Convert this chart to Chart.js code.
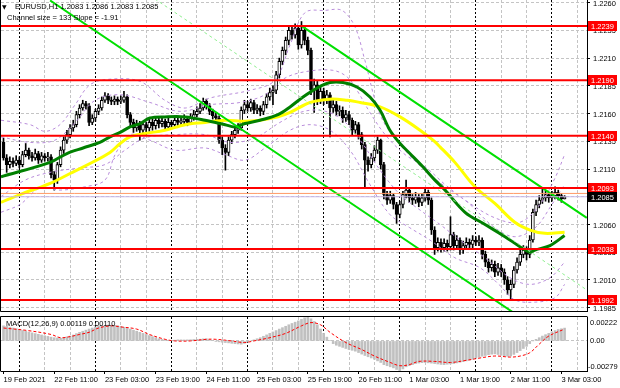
<!DOCTYPE html>
<html>
<head>
<meta charset="utf-8">
<script src="https://cdn.jsdelivr.net/npm/chart.js@4.4.1/dist/chart.umd.min.js"></script>
<style>
html, body { margin: 0; padding: 0; background: #fff; }
#wrap { position: relative; width: 620px; height: 388px; overflow: hidden; }
#main { position: absolute; left: 0; top: 0; }
#macd { position: absolute; left: 0; top: 313px; }
</style>
</head>
<body>
<div id="wrap">
<canvas id="main" width="620" height="313"></canvas>
<canvas id="macd" width="620" height="75"></canvas>
</div>
<script>
// EURUSD H1, 19 Feb 2021 19:00 .. 3 Mar 2021 04:00, one entry per bar
const opens = [
  1.2134, 1.2120, 1.2114, 1.2117, 1.2115, 1.2118, 1.2114, 1.2123, 1.2127, 1.2122,
  1.2120, 1.2124, 1.2118, 1.2122, 1.2120, 1.2121, 1.2105, 1.2100, 1.2114, 1.2127,
  1.2136, 1.2141, 1.2147, 1.2150, 1.2159, 1.2165, 1.2169, 1.2167, 1.2152, 1.2156,
  1.2162, 1.2165, 1.2172, 1.2176, 1.2172, 1.2171, 1.2173, 1.2171, 1.2172, 1.2175,
  1.2159, 1.2152, 1.2147, 1.2151, 1.2145, 1.2150, 1.2147, 1.2152, 1.2149, 1.2154,
  1.2151, 1.2153, 1.2148, 1.2152, 1.2150, 1.2154, 1.2152, 1.2153, 1.2155, 1.2152,
  1.2156, 1.2159, 1.2162, 1.2165, 1.2171, 1.2167, 1.2162, 1.2158, 1.2156, 1.2136,
  1.2129, 1.2125, 1.2136, 1.2141, 1.2145, 1.2147, 1.2163, 1.2168, 1.2165, 1.2170,
  1.2163, 1.2165, 1.2162, 1.2168, 1.2175, 1.2179, 1.2181, 1.2195, 1.2207, 1.2217,
  1.2226, 1.2235, 1.2231, 1.2237, 1.2222, 1.2235, 1.2226, 1.2217, 1.2181, 1.2186,
  1.2172, 1.2180, 1.2172, 1.2177, 1.2165, 1.2168, 1.2162, 1.2163, 1.2156, 1.2159,
  1.2154, 1.2145, 1.2150, 1.2141, 1.2132, 1.2118, 1.2114, 1.2120, 1.2127, 1.2136,
  1.2114, 1.2087, 1.2082, 1.2086, 1.2078, 1.2069, 1.2078, 1.2087, 1.2091, 1.2084,
  1.2082, 1.2085, 1.2080, 1.2084, 1.2089, 1.2082, 1.2055, 1.2039, 1.2044, 1.2039,
  1.2043, 1.2040, 1.2051, 1.2041, 1.2046, 1.2037, 1.2041, 1.2044, 1.2042, 1.2046,
  1.2044, 1.2046, 1.2033, 1.2026, 1.2021, 1.2024, 1.2017, 1.2021, 1.2017, 1.2010,
  1.2001, 1.2006, 1.2019, 1.2026, 1.2033, 1.2037, 1.2033, 1.2046, 1.2071, 1.2078,
  1.2082, 1.2084, 1.2087, 1.2084, 1.2086, 1.2089, 1.2086, 1.2083
];
const highs = [
  1.2138, 1.2123, 1.2121, 1.2120, 1.2122, 1.2121, 1.2126, 1.2133, 1.2129, 1.2125,
  1.2128, 1.2126, 1.2125, 1.2124, 1.2125, 1.2123, 1.2108, 1.2116, 1.2130, 1.2139,
  1.2145, 1.2150, 1.2154, 1.2162, 1.2168, 1.2172, 1.2171, 1.2169, 1.2159, 1.2164,
  1.2168, 1.2175, 1.2179, 1.2178, 1.2175, 1.2176, 1.2175, 1.2176, 1.2180, 1.2177,
  1.2161, 1.2155, 1.2154, 1.2153, 1.2153, 1.2152, 1.2156, 1.2155, 1.2157, 1.2156,
  1.2157, 1.2155, 1.2156, 1.2154, 1.2158, 1.2156, 1.2157, 1.2159, 1.2157, 1.2160,
  1.2163, 1.2166, 1.2169, 1.2174, 1.2173, 1.2169, 1.2164, 1.2161, 1.2158, 1.2139,
  1.2132, 1.2139, 1.2144, 1.2148, 1.2151, 1.2166, 1.2172, 1.2171, 1.2173, 1.2172,
  1.2168, 1.2167, 1.2171, 1.2178, 1.2183, 1.2185, 1.2198, 1.2210, 1.2220, 1.2229,
  1.2238, 1.2239, 1.2241, 1.2239, 1.2243, 1.2238, 1.2229, 1.2219, 1.2191, 1.2189,
  1.2184, 1.2183, 1.2181, 1.2179, 1.2172, 1.2171, 1.2167, 1.2166, 1.2163, 1.2162,
  1.2156, 1.2153, 1.2152, 1.2143, 1.2134, 1.2121, 1.2124, 1.2131, 1.2139, 1.2137,
  1.2116, 1.2090, 1.2090, 1.2088, 1.2080, 1.2081, 1.2090, 1.2100, 1.2093, 1.2087,
  1.2089, 1.2087, 1.2088, 1.2093, 1.2091, 1.2084, 1.2058, 1.2048, 1.2047, 1.2047,
  1.2046, 1.2067, 1.2053, 1.2050, 1.2048, 1.2045, 1.2048, 1.2047, 1.2050, 1.2049,
  1.2050, 1.2048, 1.2036, 1.2029, 1.2028, 1.2027, 1.2025, 1.2024, 1.2020, 1.2013,
  1.2010, 1.2022, 1.2030, 1.2037, 1.2041, 1.2040, 1.2050, 1.2074, 1.2082, 1.2086,
  1.2093, 1.2090, 1.2089, 1.2090, 1.2094, 1.2091, 1.2088, 1.2086
];
const lows = [
  1.2118, 1.2107, 1.2111, 1.2112, 1.2113, 1.2111, 1.2112, 1.2121, 1.2119, 1.2117,
  1.2118, 1.2115, 1.2116, 1.2117, 1.2117, 1.2102, 1.2091, 1.2097, 1.2112, 1.2124,
  1.2133, 1.2138, 1.2144, 1.2148, 1.2156, 1.2163, 1.2164, 1.2149, 1.2150, 1.2153,
  1.2159, 1.2163, 1.2170, 1.2169, 1.2168, 1.2168, 1.2168, 1.2169, 1.2170, 1.2156,
  1.2149, 1.2143, 1.2144, 1.2136, 1.2142, 1.2141, 1.2144, 1.2145, 1.2146, 1.2147,
  1.2148, 1.2145, 1.2146, 1.2147, 1.2148, 1.2149, 1.2150, 1.2151, 1.2149, 1.2150,
  1.2154, 1.2157, 1.2160, 1.2163, 1.2164, 1.2159, 1.2155, 1.2153, 1.2133, 1.2123,
  1.2109, 1.2122, 1.2133, 1.2138, 1.2142, 1.2145, 1.2160, 1.2162, 1.2162, 1.2160,
  1.2160, 1.2158, 1.2159, 1.2165, 1.2172, 1.2168, 1.2178, 1.2192, 1.2204, 1.2213,
  1.2222, 1.2227, 1.2228, 1.2218, 1.2219, 1.2222, 1.2213, 1.2177, 1.2161, 1.2168,
  1.2169, 1.2168, 1.2169, 1.2139, 1.2161, 1.2158, 1.2158, 1.2152, 1.2153, 1.2150,
  1.2141, 1.2142, 1.2137, 1.2128, 1.2094, 1.2108, 1.2111, 1.2117, 1.2124, 1.2110,
  1.2083, 1.2078, 1.2079, 1.2074, 1.2061, 1.2066, 1.2075, 1.2084, 1.2080, 1.2078,
  1.2079, 1.2076, 1.2077, 1.2081, 1.2078, 1.2051, 1.2033, 1.2036, 1.2035, 1.2036,
  1.2036, 1.2037, 1.2037, 1.2038, 1.2033, 1.2034, 1.2038, 1.2039, 1.2039, 1.2041,
  1.2041, 1.2029, 1.2022, 1.2017, 1.2018, 1.2013, 1.2014, 1.2013, 1.2006, 1.1997,
  1.1992, 1.2003, 1.2016, 1.2023, 1.2030, 1.2028, 1.2030, 1.2044, 1.2068, 1.2075,
  1.2079, 1.2081, 1.2080, 1.2081, 1.2083, 1.2082, 1.2080, 1.2083
];
const closes = [
  1.2120, 1.2114, 1.2117, 1.2115, 1.2118, 1.2114, 1.2123, 1.2127, 1.2122, 1.2120,
  1.2124, 1.2118, 1.2122, 1.2120, 1.2121, 1.2105, 1.2100, 1.2114, 1.2127, 1.2136,
  1.2141, 1.2147, 1.2150, 1.2159, 1.2165, 1.2169, 1.2167, 1.2152, 1.2156, 1.2162,
  1.2165, 1.2172, 1.2176, 1.2172, 1.2171, 1.2173, 1.2171, 1.2172, 1.2175, 1.2159,
  1.2152, 1.2147, 1.2151, 1.2145, 1.2150, 1.2147, 1.2152, 1.2149, 1.2154, 1.2151,
  1.2153, 1.2148, 1.2152, 1.2150, 1.2154, 1.2152, 1.2153, 1.2155, 1.2152, 1.2156,
  1.2159, 1.2162, 1.2165, 1.2171, 1.2167, 1.2162, 1.2158, 1.2156, 1.2136, 1.2129,
  1.2125, 1.2136, 1.2141, 1.2145, 1.2147, 1.2163, 1.2168, 1.2165, 1.2170, 1.2163,
  1.2165, 1.2162, 1.2168, 1.2175, 1.2179, 1.2181, 1.2195, 1.2207, 1.2217, 1.2226,
  1.2235, 1.2231, 1.2237, 1.2222, 1.2235, 1.2226, 1.2217, 1.2181, 1.2186, 1.2172,
  1.2180, 1.2172, 1.2177, 1.2165, 1.2168, 1.2162, 1.2163, 1.2156, 1.2159, 1.2154,
  1.2145, 1.2150, 1.2141, 1.2132, 1.2118, 1.2114, 1.2120, 1.2127, 1.2136, 1.2114,
  1.2087, 1.2082, 1.2086, 1.2078, 1.2069, 1.2078, 1.2087, 1.2091, 1.2084, 1.2082,
  1.2085, 1.2080, 1.2084, 1.2089, 1.2082, 1.2055, 1.2039, 1.2044, 1.2039, 1.2043,
  1.2040, 1.2051, 1.2041, 1.2046, 1.2037, 1.2041, 1.2044, 1.2042, 1.2046, 1.2044,
  1.2046, 1.2033, 1.2026, 1.2021, 1.2024, 1.2017, 1.2021, 1.2017, 1.2010, 1.2001,
  1.2006, 1.2019, 1.2026, 1.2033, 1.2037, 1.2033, 1.2046, 1.2071, 1.2078, 1.2082,
  1.2084, 1.2087, 1.2084, 1.2086, 1.2089, 1.2086, 1.2083, 1.2085
];

// moving averages: [bar, price]
const maGreen = [
  [-0.8, 1.2103], [14.7, 1.2116], [20, 1.2124], [25.1, 1.2129], [30.4, 1.2134], [33.6, 1.2139],
  [36.8, 1.2143], [39.9, 1.2148], [43.1, 1.2151], [46.2, 1.2156], [50.9, 1.2157], [57.3, 1.2157],
  [63.6, 1.2154], [69.9, 1.2150], [73, 1.2148], [76.2, 1.2151], [80.9, 1.2154], [86.6, 1.2159],
  [90.4, 1.2166], [94.5, 1.2175], [98.9, 1.2183], [103, 1.2188], [107.1, 1.2188], [111.5, 1.2184],
  [115.6, 1.2175], [118.8, 1.2163], [121.9, 1.2145], [125.1, 1.2133], [128.2, 1.2124], [132.3, 1.2112],
  [136.1, 1.2100], [139.3, 1.2091], [145.6, 1.2071], [151.9, 1.2060], [158.2, 1.2049], [162.9, 1.2040],
  [166.1, 1.2035], [167.7, 1.2037], [172.4, 1.2041], [177, 1.2050]
];
const maYellow = [
  [-0.8, 1.2080], [5.2, 1.2087], [14.7, 1.2097], [21, 1.2106], [27.3, 1.2115], [33.6, 1.2125],
  [36.8, 1.2133], [39.9, 1.2139], [44.6, 1.2142], [50.9, 1.2145], [57.3, 1.2150], [63.6, 1.2152],
  [69.9, 1.2154], [76.2, 1.2153], [80.9, 1.2154], [86.6, 1.2157], [90.4, 1.2161], [96.7, 1.2170],
  [103, 1.2173], [108.4, 1.2172], [112.5, 1.2170], [118.8, 1.2166], [125.1, 1.2157], [131.4, 1.2145],
  [135.5, 1.2136], [137.7, 1.2130], [142.4, 1.2116], [148.7, 1.2094], [155, 1.2079], [161.3, 1.2062],
  [166.1, 1.2055], [170.8, 1.2052], [177, 1.2053]
];

// dashed bands round the price: [bar, price]
const bandOuterUp = [
  [-0.8, 1.2154], [8.4, 1.2150], [13.1, 1.2144], [17.8, 1.2150], [22.6, 1.2168], [27.3, 1.2186],
  [33.6, 1.2191], [43.1, 1.2189], [50.9, 1.2172], [57.3, 1.2165], [65.1, 1.2174], [77.8, 1.2181],
  [85.6, 1.2190], [90.4, 1.2222], [95.1, 1.2251], [101.4, 1.2253], [106.8, 1.2253], [110.9, 1.2238],
  [114, 1.2208], [118.8, 1.2159], [125.1, 1.2132], [134.5, 1.2105], [145.6, 1.2082], [155, 1.2066],
  [162.9, 1.2062], [169.2, 1.2078], [174, 1.2102], [177, 1.2123]
];
const bandOuterDown = [
  [-0.8, 1.2071], [5.2, 1.2078], [11.5, 1.2093], [17.8, 1.2091], [25.7, 1.2094], [32, 1.2100],
  [35.2, 1.2123], [39.9, 1.2141], [46.2, 1.2136], [54.1, 1.2127], [63.6, 1.2129], [69.9, 1.2123],
  [76.2, 1.2118], [82.5, 1.2129], [90.4, 1.2145], [96.7, 1.2150], [103, 1.2145], [109.3, 1.2127],
  [115.6, 1.2096], [121.9, 1.2069], [128.2, 1.2057], [134.5, 1.2046], [142.4, 1.2030], [150.3, 1.2021],
  [156.6, 1.2005], [161.3, 1.1992], [167.7, 1.1990], [174, 1.1994], [177, 1.2006]
];
const bandInnerUp = [
  [-0.8, 1.2139], [8.4, 1.2134], [16.2, 1.2136], [22.6, 1.2152], [28.9, 1.2172], [36.8, 1.2177],
  [46.2, 1.2170], [55.7, 1.2162], [65.1, 1.2168], [74.6, 1.2170], [82.5, 1.2177], [88.8, 1.2192],
  [95.7, 1.2198], [103.9, 1.2199], [108.4, 1.2193], [111.5, 1.2181], [115.6, 1.2161], [120.4, 1.2141],
  [126.7, 1.2123], [133, 1.2112], [139.3, 1.2096], [147.2, 1.2078], [155, 1.2057], [161.3, 1.2049],
  [167.7, 1.2057], [173, 1.2078], [177, 1.2096]
];
const bandInnerDown = [
  [-0.8, 1.2085], [6.8, 1.2100], [14.7, 1.2107], [24.1, 1.2111], [32, 1.2114], [38.3, 1.2127],
  [44.6, 1.2138], [54.1, 1.2141], [63.6, 1.2141], [71.5, 1.2134], [79.3, 1.2138], [87.2, 1.2152],
  [93.5, 1.2161], [99.8, 1.2163], [106.2, 1.2156], [112.5, 1.2136], [118.8, 1.2109], [125.1, 1.2087],
  [131.4, 1.2073], [137.7, 1.2060], [144, 1.2046], [151.9, 1.2030], [159.8, 1.2012], [166.1, 1.2006],
  [172.4, 1.2012], [177, 1.2026]
];

// equidistant channel: [bar, price] end points
const channelLower = [[14.7, 1.2262], [184, 1.1936]];
const channelMiddle = [[14.7, 1.2327], [184, 1.2001]];
const channelUpper = [[94, 1.2239], [184, 1.2066]];

// horizontal levels
const levels = [1.2239, 1.2190, 1.2140, 1.2093, 1.2038, 1.1992];
const askPrice = 1.2088;

// MACD(12,26,9): main line as histogram, one per bar, signal line as read points
const macdMain = [
  0.00140, 0.00135, 0.00128, 0.00120, 0.00113, 0.00105, 0.00097, 0.00090, 0.00082, 0.00075,
  0.00068, 0.00061, 0.00055, 0.00048, 0.00042, 0.00035, 0.00030, 0.00027, 0.00025, 0.00030,
  0.00038, 0.00045, 0.00055, 0.00068, 0.00080, 0.00090, 0.00100, 0.00110, 0.00120, 0.00130,
  0.00140, 0.00143, 0.00145, 0.00147, 0.00146, 0.00144, 0.00141, 0.00135, 0.00127, 0.00118,
  0.00110, 0.00100, 0.00090, 0.00080, 0.00070, 0.00060, 0.00050, 0.00040, 0.00030, 0.00020,
  0.00014, 0.00008, 0.00002, 0.00004, 0.00007, 0.00010, 0.00010, 0.00009, 0.00010, 0.00011,
  0.00013, 0.00015, 0.00016, 0.00019, 0.00020, 0.00012, 0.00005, -0.00002, -0.00008, -0.00012,
  -0.00015, -0.00018, -0.00022, -0.00025, -0.00028, -0.00030, -0.00022, -0.00010, 0.00000, 0.00010,
  0.00020, 0.00030, 0.00043, 0.00056, 0.00070, 0.00083, 0.00096, 0.00110, 0.00123, 0.00136,
  0.00150, 0.00162, 0.00174, 0.00186, 0.00200, 0.00215, 0.00222, 0.00205, 0.00180, 0.00150,
  0.00110, 0.00070, 0.00035, 0.00005, -0.00025, -0.00040, -0.00050, -0.00060, -0.00070, -0.00080,
  -0.00087, -0.00095, -0.00108, -0.00122, -0.00135, -0.00147, -0.00158, -0.00170, -0.00185, -0.00200,
  -0.00220, -0.00230, -0.00240, -0.00250, -0.00265, -0.00279, -0.00260, -0.00240, -0.00230, -0.00220,
  -0.00210, -0.00205, -0.00202, -0.00200, -0.00203, -0.00206, -0.00210, -0.00214, -0.00218, -0.00220,
  -0.00216, -0.00213, -0.00210, -0.00204, -0.00198, -0.00192, -0.00185, -0.00178, -0.00170, -0.00160,
  -0.00150, -0.00142, -0.00135, -0.00128, -0.00123, -0.00120, -0.00126, -0.00133, -0.00140, -0.00142,
  -0.00140, -0.00125, -0.00108, -0.00090, -0.00070, -0.00050, -0.00025, 0.00000, 0.00015, 0.00030,
  0.00045, 0.00058, 0.00070, 0.00085, 0.00096, 0.00106, 0.00113, 0.00119
];
const macdSignal = [
  [0, 0.00120], [8, 0.00095], [15, 0.00060], [18, 0.00030], [21, 0.00040], [24, 0.00060],
  [27, 0.00080], [30, 0.00120], [34, 0.00140], [37, 0.00130], [42, 0.00110], [46, 0.00060],
  [51, 0.00015], [54, 0.00000], [59, 0.00000], [64, 0.00015], [67, 0.00015], [72, 0.00000],
  [76, -0.00015], [79, 0.00000], [84, 0.00030], [89, 0.00070], [94, 0.00140], [97, 0.00170],
  [100, 0.00150], [103, 0.00080], [108, -0.00015], [113, -0.00080], [117, -0.00140], [122, -0.00200],
  [125, -0.00230], [128, -0.00220], [131, -0.00190], [136, -0.00190], [141, -0.00200], [146, -0.00180],
  [150, -0.00160], [155, -0.00140], [160, -0.00150], [163, -0.00140], [166, -0.00110], [169, -0.00030],
  [172, 0.00045], [177, 0.00110]
];

const timeLabels = [
  "19 Feb 2021", "22 Feb 11:00", "23 Feb 03:00", "23 Feb 19:00", "24 Feb 11:00", "25 Feb 03:00",
  "25 Feb 19:00", "26 Feb 11:00", "1 Mar 03:00", "1 Mar 19:00", "2 Mar 11:00", "3 Mar 03:00"
];
const labelStep = 16;      // bars between time labels
const firstMidnight = 5;   // bar of 22 Feb 00:00
const gridStep = 8;        // bars between vertical grid lines

const priceMin = 1.19820, priceMax = 1.22624;
const priceTicks = [1.1985, 1.2010, 1.2035, 1.2060, 1.2085, 1.2110, 1.2135, 1.2160, 1.2185, 1.2210, 1.2235, 1.2260];
const macdMin = -0.00279, macdMax = 0.00222;

const xMin = -0.79, xMax = 184.07;
const FONT = '"Liberation Sans", Arial, sans-serif';
const GRID = '#c4c4c4';

const gridBars = [];
for (let b = firstMidnight; b <= xMax; b += gridStep) gridBars.push(b);
const isMidnight = v => (v - firstMidnight) % 24 === 0;

const pts = arr => arr.map(([x, y]) => ({x, y}));
const flat = (v) => [{x: xMin - 1, y: v}, {x: xMax + 1, y: v}];

const vGrid = {
  color: c => (c.tick && isMidnight(c.tick.value)) ? '#000' : GRID,
  drawTicks: false,
  offset: false
};
const vDash = c => (c.tick && isMidnight(c.tick.value)) ? [2, 2] : [3, 2];

// ---------- main price panel ----------
const mainOverlay = {
  id: 'mainOverlay',
  afterDraw(chart) {
    const {ctx, chartArea: a, scales: {y}} = chart;
    const last = closes.length - 1;
    ctx.save();
    ctx.font = '7.5px ' + FONT;
    ctx.textBaseline = 'middle';
    // level tags on the price axis
    levels.forEach(v => {
      const py = Math.round(y.getPixelForValue(v));
      ctx.fillStyle = '#ff0000';
      ctx.fillRect(a.right + 1, py - 5, 29, 10);
      ctx.fillStyle = '#fff';
      ctx.fillText(v.toFixed(4), a.right + 4, py + 0.5);
    });
    const by = Math.round(y.getPixelForValue(closes[last]));
    ctx.fillStyle = '#000';
    ctx.fillRect(a.right + 1, by - 5, 29, 10);
    ctx.fillStyle = '#fff';
    ctx.fillText(closes[last].toFixed(4), a.right + 4, by + 0.5);
    // frame
    ctx.strokeStyle = '#000';
    ctx.lineWidth = 1;
    ctx.beginPath();
    ctx.moveTo(a.left - 0.5, 0); ctx.lineTo(a.left - 0.5, a.bottom + 0.5);
    ctx.lineTo(a.right + 0.5, a.bottom + 0.5);
    ctx.stroke();
    // header
    ctx.fillStyle = '#000';
    ctx.font = '6px "DejaVu Sans", sans-serif';
    ctx.fillText('\u25BC', 2, 7);
    ctx.font = '7.5px ' + FONT;
    ctx.fillText('EURUSD,H1 ' + [opens[last], highs[last], lows[last], closes[last]].map(v => v.toFixed(4)).join(' '), 15, 7);
    ctx.fillText('Channel size = 133 Slope = -1.91', 7, 18);
    ctx.restore();
  }
};

const lineDs = (data, color, width, order, dash) => ({
  type: 'line', data, borderColor: color, borderWidth: width, borderDash: dash || [],
  pointRadius: 0, fill: false, tension: 0.35, order
});

const BAND = '#b98ddb';
const mainDatasets = [];
levels.forEach(v => mainDatasets.push(lineDs(flat(v), '#ff0000', 2, 1)));
mainDatasets.push(lineDs(flat(askPrice), '#ff9a66', 1, 1));
mainDatasets.push(lineDs(flat(closes[closes.length - 1]), '#c8b8e8', 1, 1));
mainDatasets.push(lineDs(pts(channelLower), '#00e000', 2, 2));
mainDatasets.push(lineDs(pts(channelUpper), '#00e000', 2, 2));
mainDatasets.push(lineDs(pts(channelMiddle), '#90ee90', 1, 2, [3, 3]));
mainDatasets.push(lineDs(pts(maGreen), '#008000', 3, 3));
mainDatasets.push(lineDs(pts(maYellow), '#ffff00', 3, 3));
[bandOuterUp, bandOuterDown, bandInnerUp, bandInnerDown].forEach(b =>
  mainDatasets.push(lineDs(pts(b), BAND, 1, 4, [3, 3])));
mainDatasets.push({
  type: 'bar', order: 5, grouped: false, barThickness: 3,
  data: opens.map((o, i) => ({x: i, y: [o, closes[i]]})),
  backgroundColor: opens.map((o, i) => closes[i] >= o ? '#ffffff' : '#000000'),
  borderColor: '#000', borderWidth: 1, borderSkipped: false
});
mainDatasets.push({
  type: 'bar', order: 6, grouped: false, barThickness: 1,
  data: lows.map((l, i) => ({x: i, y: [l, highs[i]]})),
  backgroundColor: '#000', borderWidth: 0
});

new Chart(document.getElementById('main'), {
  type: 'bar',
  data: {datasets: mainDatasets},
  options: {
    responsive: false, animation: false, devicePixelRatio: 1, events: [],
    layout: {padding: {left: 1, top: 0, right: 0, bottom: 2}},
    plugins: {legend: {display: false}, tooltip: {enabled: false}},
    scales: {
      x: {
        type: 'linear', min: xMin, max: xMax, offset: false,
        afterBuildTicks: s => { s.ticks = gridBars.map(v => ({value: v})); },
        ticks: {display: false},
        grid: vGrid,
        border: {display: false, dash: vDash},
        afterFit: s => { s.height = 0; }
      },
      y: {
        type: 'linear', position: 'right', min: priceMin, max: priceMax,
        afterBuildTicks: s => { s.ticks = priceTicks.map(v => ({value: v})); },
        ticks: {
          callback: v => v.toFixed(4), font: {family: FONT, size: 7.5}, color: '#000',
          padding: 3, labelOffset: 1
        },
        grid: {color: GRID, tickColor: '#000', tickLength: 3, drawTicks: true},
        border: {display: true, color: '#000', dash: c => c.tick ? [3, 2] : []},
        afterFit: s => { s.width = 33; s.paddingTop = 0; s.paddingBottom = 0; }
      }
    }
  },
  plugins: [mainOverlay]
});

// ---------- MACD panel ----------
const macdOverlay = {
  id: 'macdOverlay',
  afterDraw(chart) {
    const {ctx, chartArea: a, scales: {y}} = chart;
    ctx.save();
    ctx.strokeStyle = '#000';
    ctx.lineWidth = 1;
    ctx.beginPath();
    ctx.moveTo(a.left - 0.5, a.top - 0.5); ctx.lineTo(a.right + 0.5, a.top - 0.5);
    ctx.moveTo(a.left - 0.5, a.top - 0.5); ctx.lineTo(a.left - 0.5, a.bottom + 0.5);
    ctx.stroke();
    ctx.font = '7.5px ' + FONT;
    ctx.textBaseline = 'middle';
    ctx.fillStyle = '#000';
    const n = macdMain.length - 1;
    ctx.fillText('MACD(12,26,9) ' + macdMain[n].toFixed(5) + ' ' + macdSignal[macdSignal.length - 1][1].toFixed(5), 6, a.top + 7);
    ctx.fillText(macdMax.toFixed(5), a.right + 3, y.getPixelForValue(macdMax) + 6);
    ctx.fillText('0.00', a.right + 3, y.getPixelForValue(0));
    ctx.fillText(macdMin.toFixed(5), a.right + 1, y.getPixelForValue(macdMin) - 4);
    ctx.restore();
  }
};

new Chart(document.getElementById('macd'), {
  type: 'bar',
  data: {
    datasets: [
      {type: 'line', order: 1, data: pts(macdSignal), borderColor: '#ff0000', borderWidth: 1,
       borderDash: [3, 2], pointRadius: 0, tension: 0.35, fill: false},
      {type: 'bar', order: 2, data: macdMain.map((v, i) => ({x: i, y: v})),
       backgroundColor: '#c0c0c0', barThickness: 2, borderWidth: 0}
    ]
  },
  options: {
    responsive: false, animation: false, devicePixelRatio: 1, events: [],
    layout: {padding: {left: 1, top: 4, right: 0, bottom: 0}},
    plugins: {legend: {display: false}, tooltip: {enabled: false}},
    scales: {
      x: {
        type: 'linear', position: 'bottom', min: xMin, max: xMax, offset: false,
        afterBuildTicks: s => { s.ticks = timeLabels.map((t, k) => ({value: k * labelStep})); },
        ticks: {
          autoSkip: false, maxRotation: 0, minRotation: 0, align: 'start', padding: 1,
          font: {family: FONT, size: 7.5}, color: '#000',
          callback: (v, i) => timeLabels[i]
        },
        grid: {drawOnChartArea: false, drawTicks: true, tickLength: 3, tickColor: '#000', offset: false},
        border: {display: true, color: '#000'},
        afterFit: s => { s.height = 17; }
      },
      xg: {
        type: 'linear', position: 'top', min: xMin, max: xMax, offset: false,
        afterBuildTicks: s => { s.ticks = gridBars.map(v => ({value: v})); },
        ticks: {display: false},
        grid: vGrid,
        border: {display: false, dash: vDash},
        afterFit: s => { s.height = 0; }
      },
      y: {
        type: 'linear', position: 'right', min: macdMin, max: macdMax,
        afterBuildTicks: s => { s.ticks = [macdMin, 0, macdMax].map(v => ({value: v})); },
        ticks: {display: false},
        grid: {color: c => (c.tick && c.tick.value === 0) ? GRID : 'rgba(0,0,0,0)', drawTicks: false},
        border: {display: true, color: '#000', dash: c => c.tick ? [3, 2] : []},
        afterFit: s => { s.width = 33; }
      }
    }
  },
  plugins: [macdOverlay]
});
</script>
</body>
</html>
